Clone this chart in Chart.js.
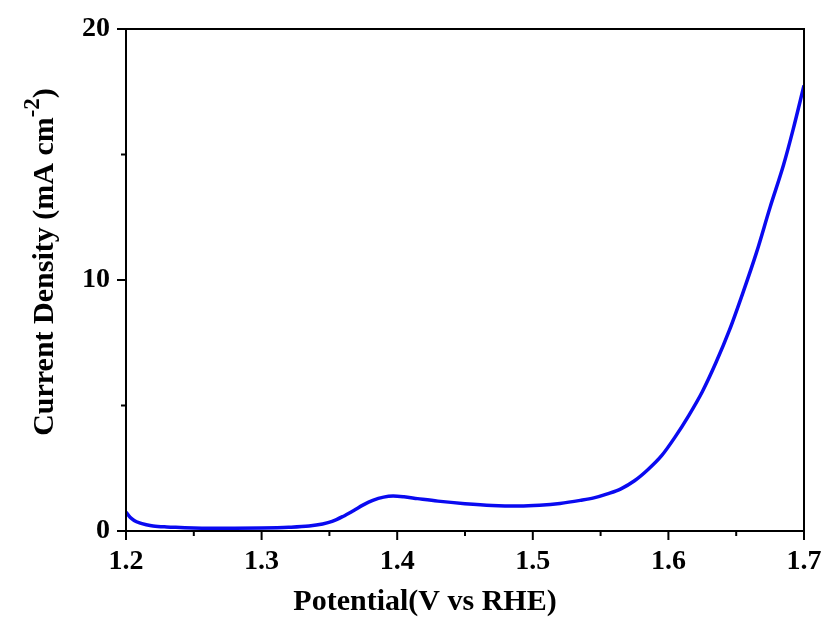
<!DOCTYPE html>
<html>
<head>
<meta charset="utf-8">
<title>LSV curve</title>
<script src="https://cdn.jsdelivr.net/npm/chart.js@4.4.1/dist/chart.umd.min.js"></script>
<style>
  html, body { margin: 0; padding: 0; background: #fff; }
  #wrap { width: 826px; height: 628px; }
</style>
</head>
<body>
<div id="wrap"><canvas id="lsvChart" width="826" height="628"></canvas></div>
<script>
// Polarization curve (LSV)
const potential = [
  1.200, 1.203, 1.206, 1.210, 1.215, 1.220, 1.230, 1.240, 1.250, 1.260,
  1.280, 1.300, 1.320, 1.335, 1.345, 1.352, 1.360, 1.368, 1.375, 1.382,
  1.390, 1.397, 1.405, 1.415, 1.430, 1.450, 1.470, 1.490, 1.505, 1.520,
  1.535, 1.545, 1.555, 1.565, 1.575, 1.585, 1.595, 1.605, 1.615, 1.625,
  1.635, 1.645, 1.655, 1.665, 1.675, 1.685, 1.692, 1.700
];
const currentDensity = [
  0.75, 0.55, 0.42, 0.32, 0.25, 0.20, 0.16, 0.14, 0.12, 0.11,
  0.11, 0.12, 0.15, 0.20, 0.28, 0.38, 0.58, 0.82, 1.04, 1.22,
  1.35, 1.39, 1.36, 1.29, 1.19, 1.09, 1.02, 1.00, 1.03, 1.10,
  1.22, 1.32, 1.48, 1.68, 2.00, 2.45, 3.00, 3.75, 4.60, 5.55,
  6.70, 8.00, 9.50, 11.10, 12.90, 14.60, 16.00, 17.75
];

const xLabels = ['1.2', '1.3', '1.4', '1.5', '1.6', '1.7'];
const yLabels = ['0', '10', '20'];

const xTitle = 'Potential(V vs RHE)';
const yTitle = 'Current Density (mA cm';
const yTitleSup = '-2';

const FONT = "'Liberation Serif', 'Times New Roman', serif";

// Outward major/minor ticks, frame and axis titles
const framePlugin = {
  id: 'frame',
  afterDraw(chart) {
    const ctx = chart.ctx;
    const { left, right, top, bottom } = chart.chartArea;
    const xs = chart.scales.x;
    const ys = chart.scales.y;
    ctx.save();
    ctx.strokeStyle = '#000';
    ctx.lineWidth = 2;
    ctx.strokeRect(left, top, right - left, bottom - top);

    xs.ticks.forEach(t => {
      const px = xs.getPixelForValue(t.value);
      const major = Math.round(t.value * 100) % 10 === 0;
      ctx.beginPath();
      ctx.moveTo(px, bottom);
      ctx.lineTo(px, bottom + (major ? 9 : 5));
      ctx.stroke();
    });
    ys.ticks.forEach(t => {
      const py = ys.getPixelForValue(t.value);
      const major = Math.round(t.value) % 10 === 0;
      ctx.beginPath();
      ctx.moveTo(left, py);
      ctx.lineTo(left - (major ? 9 : 5), py);
      ctx.stroke();
    });

    ctx.fillStyle = '#000';
    ctx.font = 'bold 30px ' + FONT;
    ctx.textBaseline = 'alphabetic';
    ctx.textAlign = 'center';
    ctx.fillText(xTitle, 425, 610);

    // rotated y title with superscript
    ctx.translate(53, 262);
    ctx.rotate(-Math.PI / 2);
    const mainW = ctx.measureText(yTitle).width;
    ctx.font = 'bold 23px ' + FONT;
    const supW = ctx.measureText(yTitleSup).width;
    ctx.font = 'bold 30px ' + FONT;
    const total = mainW + supW + ctx.measureText(')').width;
    const x0 = -total / 2;
    ctx.textAlign = 'left';
    ctx.fillText(yTitle, x0, 0);
    ctx.font = 'bold 23px ' + FONT;
    ctx.fillText(yTitleSup, x0 + mainW, -14);
    ctx.font = 'bold 30px ' + FONT;
    ctx.fillText(')', x0 + mainW + supW, 0);
    ctx.restore();
  }
};

new Chart(document.getElementById('lsvChart'), {
  type: 'line',
  data: {
    datasets: [{
      data: potential.map((v, i) => ({ x: v, y: currentDensity[i] })),
      borderColor: 'rgb(10, 10, 240)',
      borderWidth: 3.5,
      pointRadius: 0,
      fill: false,
      cubicInterpolationMode: 'monotone'
    }]
  },
  options: {
    responsive: false,
    animation: false,
    layout: { padding: { top: 29, right: 22, left: 0, bottom: 0 } },
    plugins: {
      legend: { display: false },
      tooltip: { enabled: false }
    },
    scales: {
      x: {
        type: 'linear',
        min: 1.2,
        max: 1.7,
        afterFit: scale => {
          scale.height = 97;
          scale.paddingLeft = 0;
          scale.paddingRight = 0;
        },
        grid: { drawOnChartArea: false, drawTicks: false },
        border: { display: false },
        ticks: {
          stepSize: 0.05,
          padding: 14,
          color: '#000',
          font: { family: FONT, size: 28, weight: 'bold' },
          maxRotation: 0,
          autoSkip: false,
          callback: value => {
            const k = Math.round(value * 100);
            return k % 10 === 0 ? xLabels[(k - 120) / 10] : '';
          }
        }
      },
      y: {
        type: 'linear',
        min: 0,
        max: 20,
        afterFit: scale => {
          scale.width = 126;
          scale.paddingTop = 0;
          scale.paddingBottom = 0;
        },
        grid: { drawOnChartArea: false, drawTicks: false },
        border: { display: false },
        ticks: {
          stepSize: 5,
          padding: 16,
          color: '#000',
          font: { family: FONT, size: 28, weight: 'bold' },
          autoSkip: false,
          callback: value => {
            const k = Math.round(value);
            return k % 10 === 0 ? yLabels[k / 10] : '';
          }
        }
      }
    }
  },
  plugins: [framePlugin]
});
</script>
</body>
</html>
